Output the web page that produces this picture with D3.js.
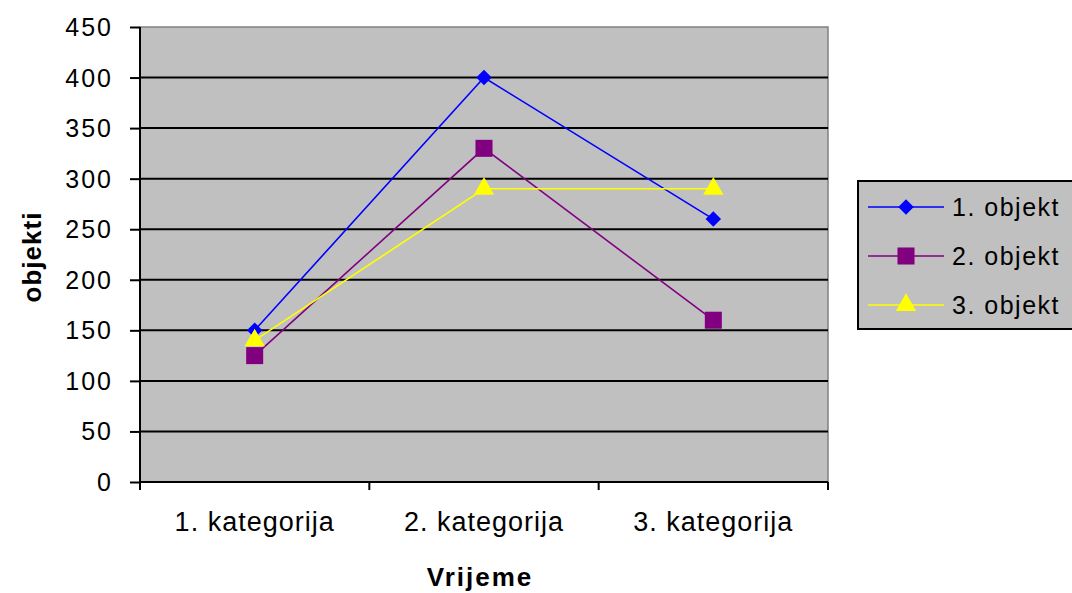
<!DOCTYPE html>
<html>
<head>
<meta charset="utf-8">
<script src="https://cdn.jsdelivr.net/npm/d3@7"></script>
<style>
  body { margin: 0; background: #fff; }
  svg text { font-family: "Liberation Sans", Arial, sans-serif; fill: #000; }
</style>
</head>
<body>
<div id="chart"></div>
<script>
// categories and series
const categories = ["1. kategorija", "2. kategorija", "3. kategorija"];
const seriesNames = ["1. objekt", "2. objekt", "3. objekt"];
const objekt1 = [150, 400, 260];
const objekt2 = [125, 330, 160];
const objekt3 = [140, 290, 290];
const yTicks = [0, 50, 100, 150, 200, 250, 300, 350, 400, 450];
const colors = ["#0000ff", "#800080", "#ffff00"];
// diamond = square turned 45 degrees
const symbols = [d3.symbolSquare, d3.symbolSquare, d3.symbolTriangle];
const symbolSizes = [120, 290, 180];
const symbolRotate = [45, 0, 0];

const series = seriesNames.map((name, i) => ({
    name: name,
    values: [objekt1, objekt2, objekt3][i],
    color: colors[i],
    symbol: symbols[i],
    size: symbolSizes[i],
    rotate: symbolRotate[i]
}));

const W = 1072, H = 593;
const margin = { top: 27, right: 244, bottom: 111, left: 140 },
      width = W - margin.left - margin.right,
      height = H - margin.top - margin.bottom;

const svg = d3.select("#chart").append("svg")
    .attr("width", W)
    .attr("height", H);

const g = svg.append("g")
    .attr("transform", `translate(${margin.left},${margin.top})`);

const x = d3.scaleBand()
    .domain(categories)
    .range([0, width]);

const y = d3.scaleLinear()
    .domain([0, 450])
    .range([height, 0]);

// plot area
g.append("rect")
    .attr("width", width)
    .attr("height", height)
    .attr("fill", "#c0c0c0")
    .attr("stroke", "#808080")
    .attr("stroke-width", 1.5);

// gridlines
g.selectAll(".grid")
    .data(yTicks.filter(d => d > 0 && d < 450))
    .enter()
    .append("line")
    .attr("x1", 0)
    .attr("x2", width)
    .attr("y1", d => y(d))
    .attr("y2", d => y(d))
    .attr("stroke", "#000")
    .attr("stroke-width", 2);

// y axis
const yAxis = g.append("g")
    .call(d3.axisLeft(y).tickValues(yTicks).tickSize(10).tickPadding(17));
yAxis.select(".domain").attr("stroke-width", 2).attr("d", `M0,${height + 1}V0`);
yAxis.selectAll(".tick line").attr("stroke-width", 2);
yAxis.selectAll("text")
    .style("font-size", "25px")
    .style("letter-spacing", "2px")
    .attr("dy", "0.34em");

// x axis: ticks sit on band edges
const xAxis = g.append("g")
    .attr("transform", `translate(0,${height})`)
    .call(d3.axisBottom(x).tickSize(0).tickPadding(30));
xAxis.select(".domain").attr("stroke-width", 2).attr("d", `M-1,0H${width}`);
xAxis.selectAll("text")
    .style("font-size", "27px")
    .style("letter-spacing", "1px")
    .attr("dy", "0.71em");
const edges = categories.map(c => x(c)).concat([width]);
xAxis.selectAll(".edge")
    .data(edges)
    .enter()
    .append("line")
    .attr("x1", d => d)
    .attr("x2", d => d)
    .attr("y1", 0)
    .attr("y2", 8)
    .attr("stroke", "#000")
    .attr("stroke-width", 2);

// axis titles
svg.append("text")
    .attr("x", margin.left + width / 2 - 4)
    .attr("y", 586)
    .attr("text-anchor", "middle")
    .style("font-size", "26px")
    .style("font-weight", "bold")
    .style("letter-spacing", "2px")
    .text("Vrijeme");

svg.append("text")
    .attr("transform", "translate(41,257) rotate(-90)")
    .attr("text-anchor", "middle")
    .style("font-size", "26px")
    .style("font-weight", "bold")
    .style("letter-spacing", "1px")
    .text("objekti");

// lines and markers
const line = d3.line()
    .x((d, i) => x(categories[i]) + x.bandwidth() / 2)
    .y(d => y(d));

series.forEach(s => {
    g.append("path")
        .datum(s.values)
        .attr("fill", "none")
        .attr("stroke", s.color)
        .attr("stroke-width", 1.6)
        .attr("d", line);
});

series.forEach(s => {
    g.selectAll(null)
        .data(s.values)
        .enter()
        .append("path")
        .attr("transform", (d, i) => `translate(${x(categories[i]) + x.bandwidth() / 2},${y(d)}) rotate(${s.rotate})`)
        .attr("d", d3.symbol().type(s.symbol).size(s.size))
        .attr("fill", s.color);
});

// legend
const legend = svg.append("g").attr("transform", "translate(858,181)");
legend.append("rect")
    .attr("width", 230)
    .attr("height", 148)
    .attr("fill", "#c0c0c0")
    .attr("stroke", "#000")
    .attr("stroke-width", 2);

const item = legend.selectAll(".item")
    .data(series)
    .enter()
    .append("g")
    .attr("transform", (d, i) => `translate(0,${26 + i * 49})`);
item.append("line")
    .attr("x1", 10)
    .attr("x2", 86)
    .attr("stroke", d => d.color)
    .attr("stroke-width", 1.6);
item.append("path")
    .attr("transform", d => `translate(48,0) rotate(${d.rotate})`)
    .attr("d", d => d3.symbol().type(d.symbol).size(d.size)())
    .attr("fill", d => d.color);
item.append("text")
    .attr("x", 94)
    .attr("dy", "0.36em")
    .style("font-size", "25px")
    .style("letter-spacing", "1.5px")
    .text(d => d.name);
</script>
</body>
</html>
